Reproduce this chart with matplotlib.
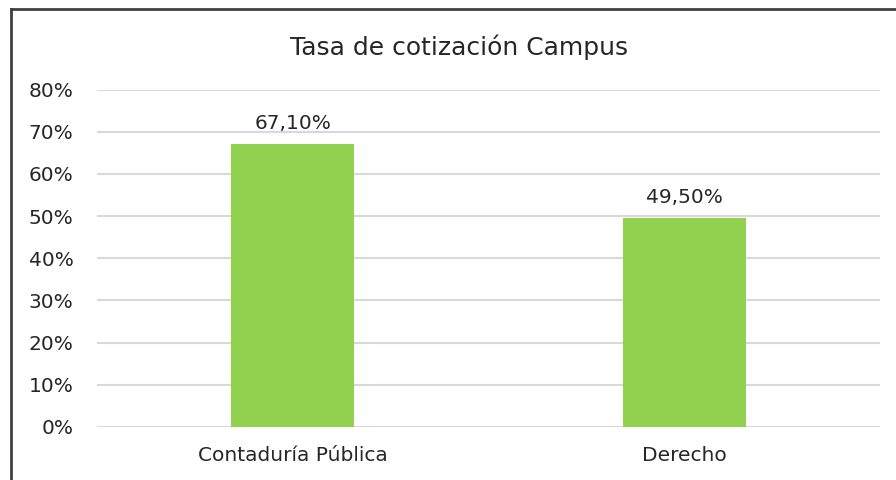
import matplotlib
matplotlib.use("Agg")
import matplotlib.pyplot as plt
from matplotlib.lines import Line2D

# datos del grafico
carreras = ["Contaduría Pública", "Derecho"]
tasa = [67.10, 49.50]
etiquetas = ["67,10%", "49,50%"]
ticks_y = [0, 10, 20, 30, 40, 50, 60, 70, 80]

plt.rcParams['font.family'] = ['DejaVu Sans']

fig = plt.figure(figsize=(8.96, 4.8), dpi=100)
ax = fig.add_axes([97/896, 1-427/480, (880-97)/896, (427-89.5)/480])

x = range(len(carreras))
ax.bar(x, tasa, width=0.315, color="#92D050", zorder=3)
ax.set_xlim(-0.5, len(carreras)-0.5)
ax.set_ylim(0, 80)
ax.set_yticks(ticks_y)
ax.set_yticklabels([str(t) + "%" for t in ticks_y], fontsize=14.5, color="#262626")
ax.set_xticks(list(x))
ax.set_xticklabels(carreras, fontsize=14.5, color="#262626")
ax.tick_params(length=0)
ax.tick_params(axis='y', pad=17)
ax.tick_params(axis='x', pad=14)
ax.grid(axis='y', color="#D9D9D9", linewidth=1.5, zorder=0)
for s in ax.spines.values():
    s.set_visible(False)

for i, v in enumerate(tasa):
    ax.annotate(etiquetas[i], (i, v), xytext=(0, 8), textcoords="offset points",
                ha="center", va="bottom", fontsize=14.5, color="#262626")

fig.text(0.512, 1-47/480, "Tasa de cotización Campus", ha="center", va="center",
         fontsize=18, color="#262626")

# marco del grafico
fig.add_artist(Line2D([11/896, 11/896], [0, 1-9/480], color="#404040", linewidth=2))
fig.add_artist(Line2D([11/896, 1], [1-9/480, 1-9/480], color="#404040", linewidth=2))

fig.savefig("out.png", dpi=100)
